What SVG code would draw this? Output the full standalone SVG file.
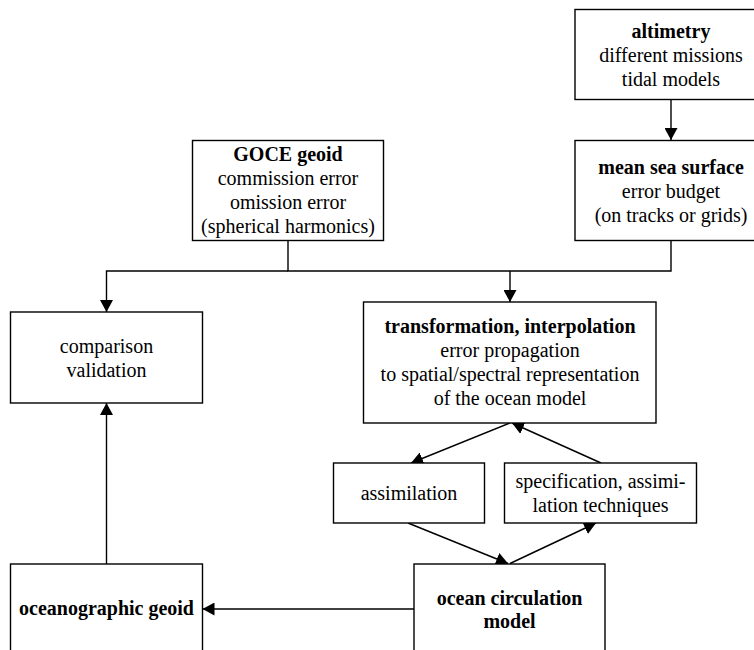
<svg xmlns="http://www.w3.org/2000/svg" width="754" height="650" viewBox="0 0 754 650">
  <style>
    .box { fill: #ffffff; stroke: #000000; stroke-width: 1.4; }
    .t { font-family: "Liberation Serif", "Times New Roman", serif; font-size: 20px; fill: #000000; text-anchor: middle; }
    .b { font-weight: bold; }
    .link { fill: none; stroke: #000000; stroke-width: 1.4; }
  </style>
  <defs>
    <marker id="arrow" markerWidth="13" markerHeight="13" refX="12" refY="6.5" orient="auto" markerUnits="userSpaceOnUse">
      <path d="M0,0 L12,6.5 L0,13 z" fill="#000000"/>
    </marker>
  </defs>
  <rect width="754" height="650" fill="#ffffff"/>

  <!-- connectors -->
  <g id="connectors">
    <line class="link" x1="671" y1="99" x2="671" y2="140" marker-end="url(#arrow)"/>
    <polyline class="link" points="288,241 288,271 671,271 671,241"/>
    <polyline class="link" points="288,271 106.5,271 106.5,312" marker-end="url(#arrow)"/>
    <line class="link" x1="510" y1="271" x2="510" y2="302" marker-end="url(#arrow)"/>
    <line class="link" x1="106.5" y1="564" x2="106.5" y2="403" marker-end="url(#arrow)"/>
    <line class="link" x1="414" y1="609" x2="202.5" y2="609" marker-end="url(#arrow)"/>
    <line class="link" x1="510" y1="423" x2="411" y2="463" marker-end="url(#arrow)"/>
    <line class="link" x1="601" y1="463" x2="512" y2="423" marker-end="url(#arrow)"/>
    <line class="link" x1="408" y1="523" x2="508" y2="563.5" marker-end="url(#arrow)"/>
    <line class="link" x1="510" y1="563.5" x2="596" y2="523" marker-end="url(#arrow)"/>
  </g>

  <g id="altimetry">
    <rect class="box" x="575" y="9.5" width="192" height="90"/>
    <text class="t b" x="671" y="38">altimetry</text>
    <text class="t" x="671" y="62">different missions</text>
    <text class="t" x="671" y="86">tidal models</text>
  </g>

  <g id="mean-sea-surface">
    <rect class="box" x="575" y="140.5" width="192" height="100"/>
    <text class="t b" x="671" y="174">mean sea surface</text>
    <text class="t" x="671" y="198">error budget</text>
    <text class="t" x="671" y="222">(on tracks or grids)</text>
  </g>

  <g id="goce-geoid">
    <rect class="box" x="192.5" y="140.5" width="191" height="100"/>
    <text class="t b" x="288" y="161">GOCE geoid</text>
    <text class="t" x="288" y="185">commission error</text>
    <text class="t" x="288" y="209">omission error</text>
    <text class="t" x="288" y="233">(spherical harmonics)</text>
  </g>

  <g id="comparison">
    <rect class="box" x="10.5" y="312" width="192" height="91"/>
    <text class="t" x="106.5" y="353">comparison</text>
    <text class="t" x="106.5" y="377">validation</text>
  </g>

  <g id="transformation">
    <rect class="box" x="363.5" y="302" width="292.5" height="121"/>
    <text class="t b" x="510" y="333">transformation, interpolation</text>
    <text class="t" x="510" y="357">error propagation</text>
    <text class="t" x="510" y="381">to spatial/spectral representation</text>
    <text class="t" x="510" y="405">of the ocean model</text>
  </g>

  <g id="assimilation">
    <rect class="box" x="333.5" y="463" width="151" height="60"/>
    <text class="t" x="409" y="500">assimilation</text>
  </g>

  <g id="specification">
    <rect class="box" x="504.5" y="463" width="192" height="60"/>
    <text class="t" x="600.5" y="488">specification, assimi-</text>
    <text class="t" x="600.5" y="512">lation techniques</text>
  </g>

  <g id="oceanographic-geoid">
    <rect class="box" x="10.5" y="564" width="192" height="100"/>
    <text class="t b" x="106.5" y="615">oceanographic geoid</text>
  </g>

  <g id="ocean-circulation-model">
    <rect class="box" x="414" y="564" width="191" height="100"/>
    <text class="t b" x="509.5" y="605">ocean circulation</text>
    <text class="t b" x="509.5" y="628">model</text>
  </g>
</svg>
